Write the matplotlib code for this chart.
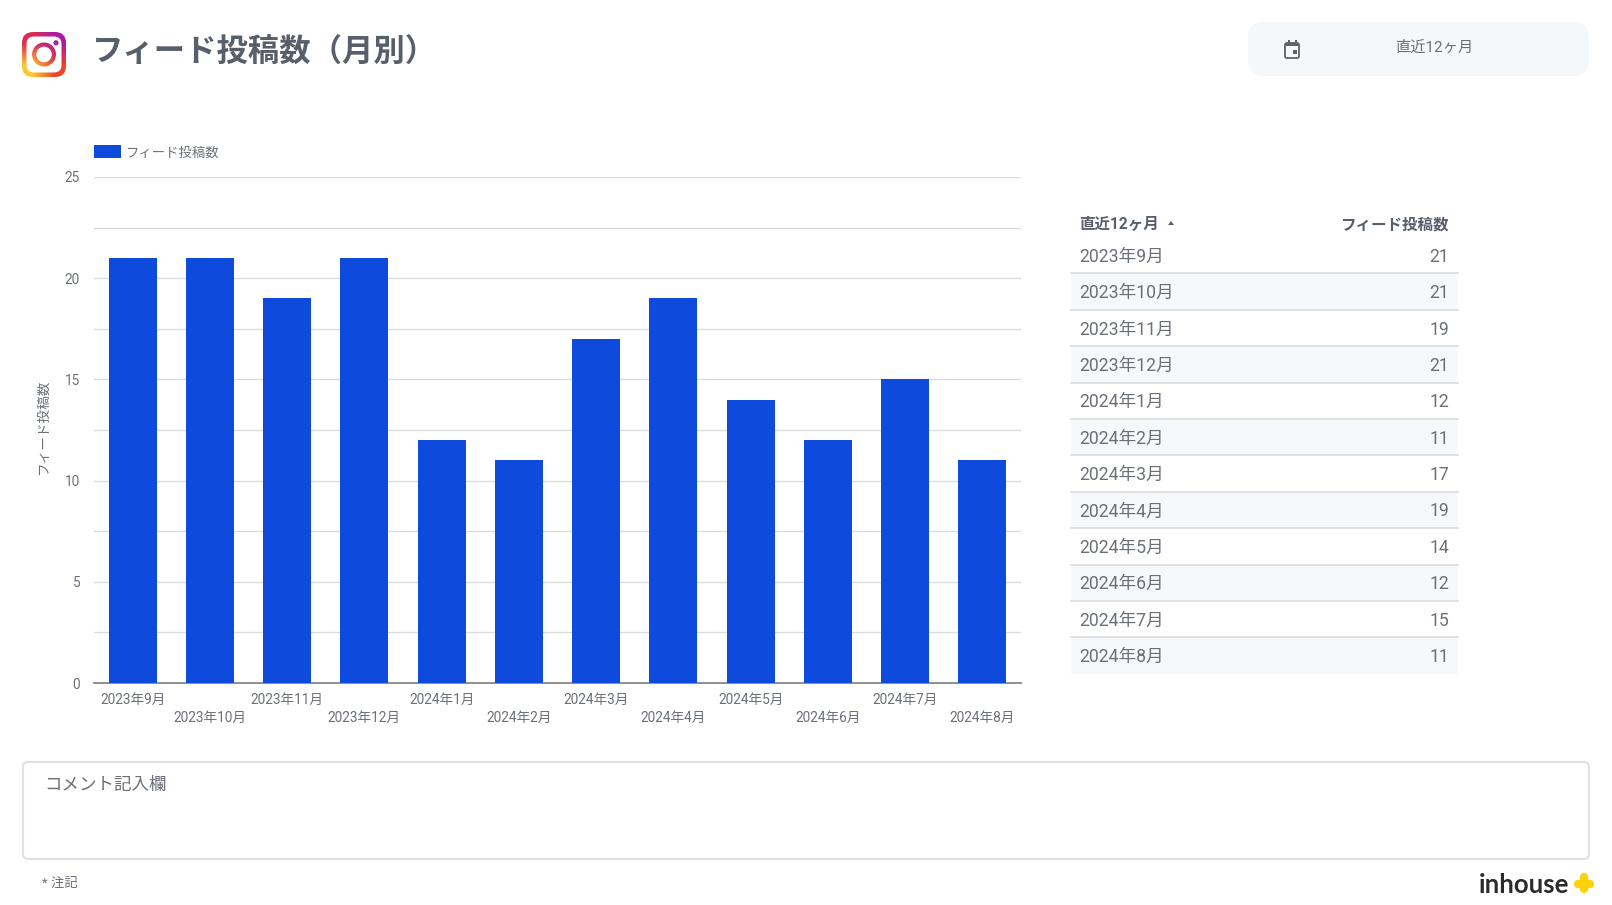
#!/usr/bin/env python
# -*- coding: utf-8 -*-

import numpy as np
import matplotlib
matplotlib.use("Agg")
import matplotlib.pyplot as plt
from matplotlib.patches import FancyBboxPatch, Rectangle, Circle, Polygon

plt.rcParams['font.family'] = ['Roboto', 'Noto Sans CJK JP', 'DejaVu Sans']

months = ['2023年9月', '2023年10月', '2023年11月', '2023年12月', '2024年1月', '2024年2月',
          '2024年3月', '2024年4月', '2024年5月', '2024年6月', '2024年7月', '2024年8月']
posts = [21, 21, 19, 21, 12, 11, 17, 19, 14, 12, 15, 11]
yticks = [0, 5, 10, 15, 20, 25]
yminor = [2.5, 7.5, 12.5, 17.5, 22.5]

title = 'フィード投稿数（月別）'
series_name = 'フィード投稿数'
period_name = '直近12ヶ月'

W, H = 1612, 905
BLUE = '#0e4bdc'
GREY = '#6b7078'
DARK = '#585f6b'

fig = plt.figure(figsize=(W / 100, H / 100), dpi=100, facecolor='white')

# everything that is not the chart goes on a pixel overlay
bg = fig.add_axes([0, 0, 1, 1], zorder=0)
bg.set_xlim(0, W)
bg.set_ylim(H, 0)
bg.axis('off')


def round_box(x0, y0, x1, y1, r, **kw):
    p = FancyBboxPatch((x0 + r, y0 + r), x1 - x0 - 2 * r, y1 - y0 - 2 * r,
                       boxstyle='round,pad=%f,rounding_size=%f' % (r, r), **kw)
    bg.add_patch(p)
    return p


# instagram logo
grad = np.array([[[0.87, 0.18, 0.33], [0.68, 0.10, 0.62]],
                 [[0.99, 0.78, 0.22], [0.93, 0.27, 0.15]]])
outer = round_box(22, 32, 66, 77, 11, fc='none', ec='none')
im = bg.imshow(grad, extent=(22, 66, 77, 32), interpolation='bilinear', aspect='auto', zorder=2)
im.set_clip_path(outer)
round_box(26.5, 36.5, 61.5, 72.5, 7.5, fc='white', ec='none', zorder=3)
ring = Circle((44, 54.5), 12, fc='none', ec='none')
bg.add_patch(ring)
im2 = bg.imshow(grad, extent=(22, 66, 77, 32), interpolation='bilinear', aspect='auto', zorder=4)
im2.set_clip_path(ring)
bg.add_patch(Circle((44, 54.5), 7.8, fc='white', ec='none', zorder=5))
bg.add_patch(Circle((56, 42.8), 2.6, fc='#b5208a', ec='none', zorder=5))
bg.set_xlim(0, W)
bg.set_ylim(H, 0)

bg.text(92, 53, title, fontsize=22.6, fontweight='bold', color=DARK, ha='left', va='center')

# date range chip
round_box(1248, 22, 1589, 76, 16, fc='#f5f8fb', ec='none')
round_box(1285, 43, 1299, 58, 2, fc='none', ec='#5f6368', lw=1.3)
bg.add_patch(Rectangle((1285, 43), 14, 3, fc='#5f6368', ec='none'))
bg.add_patch(Rectangle((1288, 40), 1.6, 4, fc='#5f6368', ec='none'))
bg.add_patch(Rectangle((1295, 40), 1.6, 4, fc='#5f6368', ec='none'))
bg.add_patch(Rectangle((1292.5, 50.5), 4, 4, fc='#5f6368', ec='none'))
bg.text(1434, 48, period_name, fontsize=11, color=GREY, ha='center', va='center')

# legend
bg.add_patch(Rectangle((94, 145), 27, 13.5, fc=BLUE, ec='none'))
bg.text(125.5, 153, series_name, fontsize=9.6, color=GREY, ha='left', va='center')

# bar chart
ax = fig.add_axes([94 / W, 1 - 683 / H, (1021 - 94) / W, (683 - 177) / H], zorder=1)
ax.patch.set_alpha(0)
x = np.arange(len(months))
ax.bar(x, posts, width=0.62, color=BLUE, zorder=3)
ax.set_xlim(-0.5, len(months) - 0.5)
ax.set_ylim(0, 25)
ax.set_yticks(yticks)
ax.set_yticks(yminor, minor=True)
ax.grid(True, axis='y', which='both', color='#dcdcdc', lw=1, zorder=0)
ax.set_axisbelow(True)
ax.set_xticks(x)
ax.set_xticklabels(months, fontsize=9.8, color=GREY)
ax.tick_params(axis='y', which='both', length=0, labelsize=9.8, labelcolor=GREY, pad=10)
ax.tick_params(axis='x', length=0)
for i, t in enumerate(ax.xaxis.get_major_ticks()):
    t.set_pad(7 if i % 2 == 0 else 20)
for s in ['top', 'left', 'right']:
    ax.spines[s].set_visible(False)
ax.spines['bottom'].set_color('#85888c')
ax.spines['bottom'].set_linewidth(1.3)
bg.text(43, 427, series_name, fontsize=9.8, color=GREY, rotation=90, ha='center', va='center')

# table
row_h = 36.4
table_top = 237
table_left, table_right = 1071, 1458
bg.text(1079.5, 224.5, period_name, fontsize=11.2, fontweight='bold', color=DARK, ha='left', va='center')
bg.add_patch(Polygon([[1168, 225], [1174, 225], [1171, 221]], fc=DARK, ec='none'))
bg.text(1449, 224.5, series_name, fontsize=11.2, fontweight='bold', color=DARK, ha='right', va='center')
for i, (m, v) in enumerate(zip(months, posts)):
    y0 = table_top + i * row_h
    if i % 2 == 1:
        bg.add_patch(Rectangle((table_left, y0), table_right - table_left, row_h, fc='#f6f9fc', ec='none'))
    if i > 0:
        bg.plot([table_left, table_right], [y0, y0], color='#d8dadd', lw=1.2)
    bg.text(1079.5, y0 + row_h / 2 + 1.5, m, fontsize=12.7, color=GREY, ha='left', va='center')
    bg.text(1449, y0 + row_h / 2 + 1.5, str(v), fontsize=12.7, color=GREY, ha='right', va='center')

# comment box and footer
round_box(23, 762, 1589, 859, 5, fc='white', ec='#e0e0e0', lw=1.5)
bg.text(44, 785, 'コメント記入欄', fontsize=12.6, color=GREY, ha='left', va='center')
bg.text(42, 883, '* 注記', fontsize=9.6, color=GREY, ha='left', va='center')
bg.text(1479, 885, 'inhouse', family=['Lato'], fontsize=18.5, fontweight='bold', color='#2b2b2b', ha='left', va='center')
bg.plot([1577.5, 1590], [884, 884], color='#fcd20a', lw=6, solid_capstyle='round')
bg.plot([1584, 1584], [877, 889], color='#fcd20a', lw=6, solid_capstyle='round')
bg.set_xlim(0, W)
bg.set_ylim(H, 0)

fig.savefig('out.png', dpi=100)
